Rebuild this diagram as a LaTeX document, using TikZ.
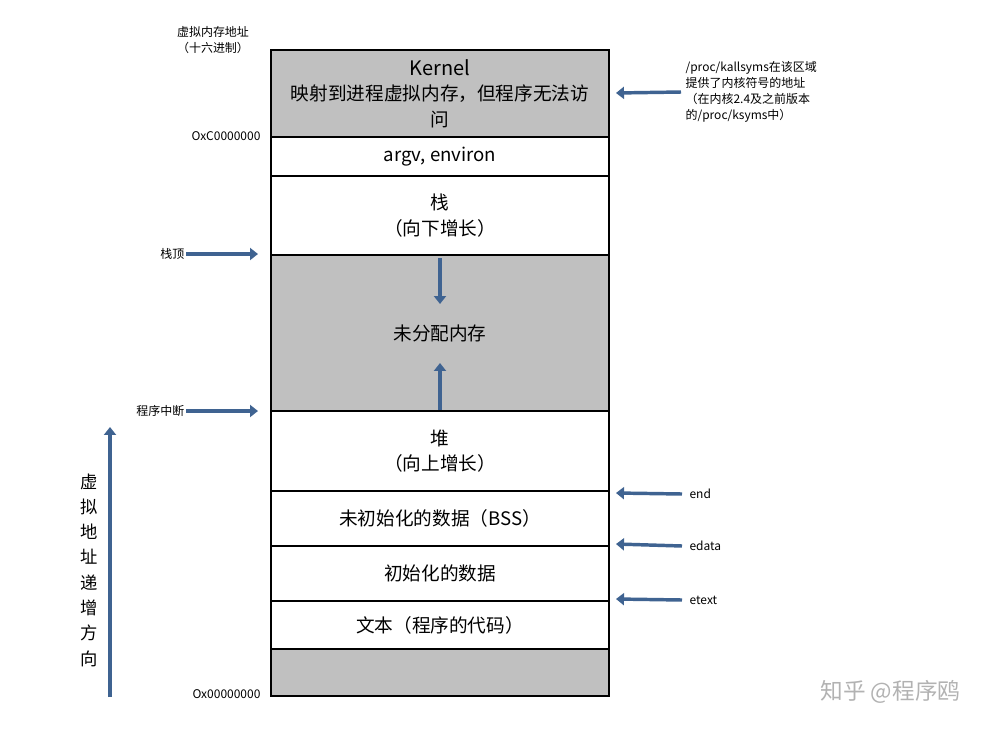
\documentclass[tikz,border=0pt]{standalone}
\usepackage{fontspec}
\setmainfont{Noto Sans CJK SC}
\usetikzlibrary{arrows.meta}
\definecolor{arrowblue}{HTML}{3F6391}
\definecolor{cellgray}{HTML}{C0C0C0}
\tikzset{
  cell/.style={draw,line width=1.6pt,minimum width=338*0.0264cm,inner sep=0pt,align=center,font=\fontsize{14}{19}\selectfont},
  lbl/.style={font=\fontsize{9}{12}\selectfont,inner sep=1pt},
  ptr/.style={arrowblue,line width=2.6pt,-{Triangle[length=6pt,width=9pt]}}
}
\begin{document}
\begin{tikzpicture}[x=0.0264cm,y=-0.0264cm]
\useasboundingbox (0,0) rectangle (989,733);
% memory blocks
\node[cell,fill=cellgray,minimum height=87*0.0264cm] (kern) at (440,93.5) {{\fontsize{15}{19}\selectfont Kernel}\\映射到进程虚拟内存，但程序无法访\\问};
\node[cell,minimum height=39*0.0264cm] (argv) at (440,156.5) {argv, environ};
\node[cell,minimum height=79*0.0264cm] (stack) at (440,215.5) {栈\\（向下增长）};
\node[cell,fill=cellgray,minimum height=156*0.0264cm] (free) at (440,333) {未分配内存};
\node[cell,minimum height=80*0.0264cm] (heap) at (440,451) {堆\\（向上增长）};
\node[cell,minimum height=55*0.0264cm] (bss) at (440,518.5) {未初始化的数据（BSS）};
\node[cell,minimum height=55*0.0264cm] (data) at (440,573.5) {初始化的数据};
\node[cell,minimum height=48*0.0264cm] (text) at (440,625) {文本（程序的代码）};
\node[cell,fill=cellgray,minimum height=47*0.0264cm] (low) at (440,672.5) {};

% left labels
\node[lbl,align=center] (vaddr) at (213,40) {虚拟内存地址\\（十六进制）};
\node[lbl,anchor=east] (hi) at (262,136) {OxC0000000};
\node[lbl,anchor=east] (lo) at (262,694) {Ox00000000};
\node[lbl,anchor=east] (sp) at (186,254) {栈顶};
\node[lbl,anchor=east] (brk) at (186,411) {程序中断};
\coordinate (sp_e) at (258,254);
\coordinate (brk_e) at (258,411);
\draw[ptr] (sp) -- (sp_e);
\draw[ptr] (brk) -- (brk_e);

% right labels
\node[lbl,anchor=west,align=left] (ksym) at (684,92) {/proc/kallsyms在该区域\\提供了内核符号的地址\\（在内核2.4及之前版本\\的/proc/ksyms中）};
\node[lbl,anchor=west] (endl) at (688,494) {end};
\node[lbl,anchor=west] (edata) at (688,546) {edata};
\node[lbl,anchor=west] (etext) at (688,600) {etext};
\coordinate (ksym_e) at (616,93);
\coordinate (end_e) at (616,493);
\coordinate (edata_e) at (616,544);
\coordinate (etext_e) at (616,599);
\draw[ptr] (ksym.west) ++(-3,0) coordinate (ksym_s) -- (ksym_e);
\draw[ptr] (endl.west) ++(-6,0) -- (end_e);
\draw[ptr] (edata.west) ++(-6,0) -- (edata_e);
\draw[ptr] (etext.west) ++(-6,0) -- (etext_e);

% growth arrows
\coordinate (down_s) at (440,258);
\coordinate (down_e) at (440,304);
\coordinate (up_s) at (440,410);
\coordinate (up_e) at (440,363);
\draw[ptr] (down_s) -- (down_e);
\draw[ptr] (up_s) -- (up_e);

% address direction
\coordinate (dir_s) at (110,697);
\coordinate (dir_e) at (110,427);
\draw[ptr] (dir_s) -- (dir_e);
\node[font=\fontsize{13}{19}\selectfont,align=center,inner sep=0pt] (dir) at (89,570) {虚\\拟\\地\\址\\递\\增\\方\\向};

% watermark
\node[font=\fontsize{17}{20}\selectfont,text=gray!60,anchor=east] (wm) at (965,692) {知乎 @程序鸥};
\end{tikzpicture}
\end{document}
